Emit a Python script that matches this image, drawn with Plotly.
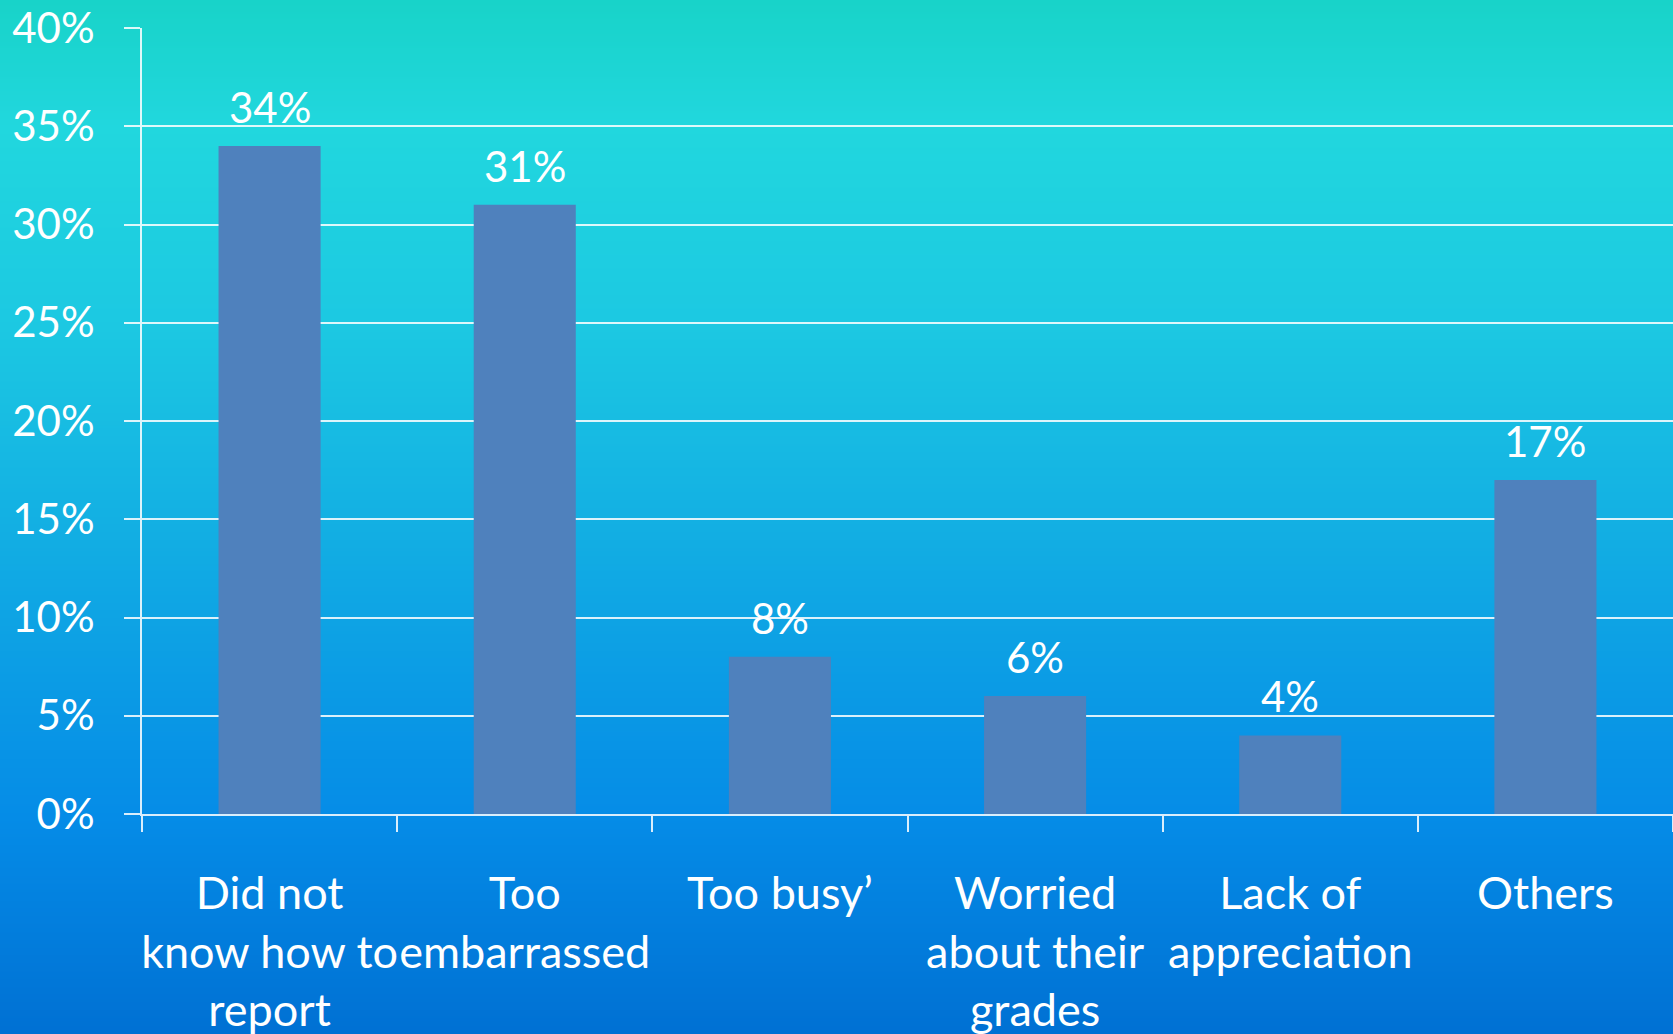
import base64
import struct
import zlib

import plotly.graph_objects as go

# Survey data
categories = [
    "Did not<br>know how to<br>report",
    "Too<br>embarrassed",
    "Too busy’",
    "Worried<br>about their<br>grades",
    "Lack of<br>appreciation",
    "Others",
]
shares = [0.34, 0.31, 0.08, 0.06, 0.04, 0.17]
y_ticks = [0, 0.05, 0.10, 0.15, 0.20, 0.25, 0.30, 0.35, 0.40]

W, H = 1673, 1034
M_L, M_R, M_T, M_B = 142, 0, 28, 220
FONT = "Lato"
FS = 42
FS_X = 45

# Vertical background gradient (pixel row -> RGB)
grad_stops = [
    (0, (24, 211, 200)),
    (130, (33, 215, 222)),
    (330, (28, 200, 226)),
    (520, (19, 176, 227)),
    (700, (10, 153, 229)),
    (815, (5, 140, 231)),
    (1034, (0, 112, 211)),
]


def gradient_rows(stops, height):
    rows = []
    for y in range(height):
        for (y0, c0), (y1, c1) in zip(stops, stops[1:]):
            if y0 <= y <= y1:
                t = (y - y0) / (y1 - y0)
                rows.append(tuple(round(a + (b - a) * t) for a, b in zip(c0, c1)))
                break
    return rows


def png_uri(rows):
    raw = b"".join(b"\x00" + bytes(c) for c in rows)

    def chunk(tag, data):
        return (struct.pack(">I", len(data)) + tag + data
                + struct.pack(">I", zlib.crc32(tag + data) & 0xFFFFFFFF))

    ihdr = struct.pack(">IIBBBBB", 1, len(rows), 8, 2, 0, 0, 0)
    png = (b"\x89PNG\r\n\x1a\n" + chunk(b"IHDR", ihdr)
           + chunk(b"IDAT", zlib.compress(raw, 9)) + chunk(b"IEND", b""))
    return "data:image/png;base64," + base64.b64encode(png).decode()


pw = W - M_L - M_R
ph = H - M_T - M_B

fig = go.Figure(
    go.Bar(
        x=categories,
        y=shares,
        marker=dict(color="#4F81BD", line=dict(width=0)),
        hoverinfo="skip",
    )
)

for cat, v in zip(categories, shares):
    fig.add_annotation(
        x=cat, y=v, text=f"{v * 100:.0f}%", showarrow=False,
        yanchor="bottom", yshift=12,
        font=dict(family=FONT, size=FS, color="white"),
    )

# Full-page gradient, extended a little past each edge
pad = 4
fig.add_layout_image(
    source=png_uri(gradient_rows(grad_stops, H)),
    xref="paper", yref="paper",
    x=-(M_L + pad) / pw, y=1 + (M_T + pad) / ph,
    sizex=(W + 2 * pad) / pw, sizey=(H + 2 * pad) / ph,
    xanchor="left", yanchor="top",
    sizing="stretch", layer="below",
)

fig.update_layout(
    width=W, height=H,
    margin=dict(l=M_L, r=M_R, t=M_T, b=M_B, pad=0, autoexpand=False),
    paper_bgcolor="#0070D3",
    plot_bgcolor="rgba(0,0,0,0)",
    bargap=0.6,
    showlegend=False,
    font=dict(family=FONT, size=FS, color="white"),
)

fig.update_xaxes(
    type="category",
    automargin=False,
    tickangle=0,
    tickson="boundaries",
    ticks="outside", ticklen=16, tickwidth=2, tickcolor="rgba(255,255,255,0.85)",
    showline=True, linecolor="rgba(255,255,255,0.85)", linewidth=2,
    showgrid=False, zeroline=False,
    ticklabelstandoff=39,
    tickfont=dict(family=FONT, size=FS_X, color="white"),
)

fig.update_yaxes(
    automargin=False,
    range=[0, 0.4],
    tickvals=y_ticks,
    tickformat=".0%",
    ticks="outside", ticklen=16, tickwidth=2, tickcolor="rgba(255,255,255,0.85)",
    showline=True, linecolor="rgba(255,255,255,0.85)", linewidth=2,
    showgrid=True, gridcolor="rgba(255,255,255,0.85)", gridwidth=2,
    zeroline=False,
    ticklabelstandoff=21,
    tickfont=dict(family=FONT, size=FS, color="white"),
)

fig.write_html("out.html")
